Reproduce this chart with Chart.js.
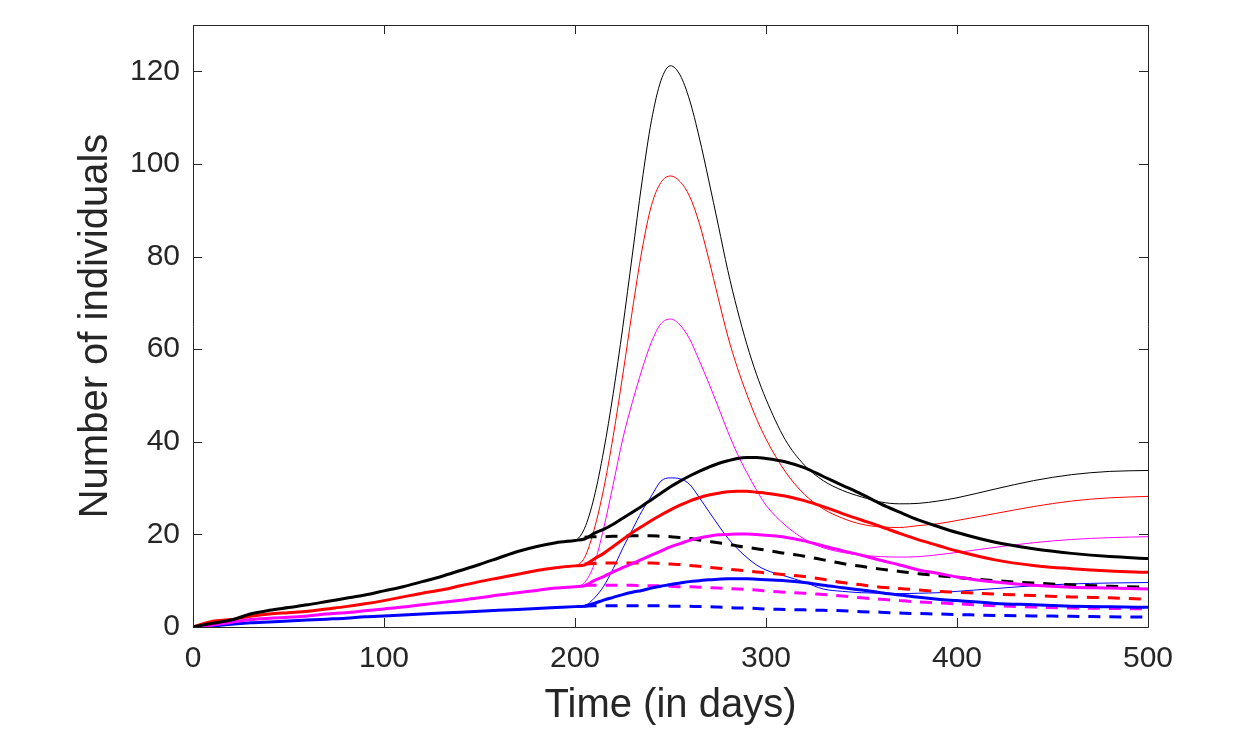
<!DOCTYPE html>
<html>
<head>
<meta charset="utf-8">
<title>Number of individuals</title>
<script src="https://cdn.jsdelivr.net/npm/chart.js@4.4.1/dist/chart.umd.min.js"></script>
<style>
  html, body { margin: 0; padding: 0; background: #fff; }
  #wrap { width: 1236px; height: 737px; }
</style>
</head>
<body>
<div id="wrap"><canvas id="modelChart" width="1236" height="737"></canvas></div>
<script>
// time grid (days): before and after the change at ~day 205
const earlyDays = [0, 10, 20, 30, 40, 50, 60, 70, 80, 90, 100, 110, 120, 130, 140, 150, 160, 170, 180, 190, 200];
const lateDays = [205, 210, 215, 220, 225, 230, 235, 240, 245, 250, 255, 260, 265, 270, 275, 280, 285, 290, 295, 300,
                  310, 320, 330, 340, 350, 360, 370, 380, 390, 400, 420, 440, 460, 480, 500];

// shared part of the curves, days 0-200
const earlyBlack   = [0, 0.8, 1.5, 2.8, 3.6, 4.2, 4.8, 5.5, 6.2, 6.9, 7.8, 8.7, 9.8, 10.9, 12.2, 13.5, 14.9, 16.3, 17.4, 18.2, 18.7];
const earlyRed     = [0, 1.2, 1.6, 2.3, 2.8, 3.1, 3.4, 3.9, 4.4, 5.0, 5.7, 6.5, 7.3, 8.0, 8.9, 9.8, 10.6, 11.4, 12.2, 12.8, 13.2];
const earlyMagenta = [0, 0.4, 1.0, 1.6, 1.9, 2.1, 2.4, 2.8, 3.1, 3.5, 3.9, 4.3, 4.8, 5.3, 5.8, 6.3, 6.9, 7.4, 7.9, 8.4, 8.7];
const earlyBlue    = [0, 0.2, 0.6, 0.9, 1.1, 1.3, 1.5, 1.7, 1.9, 2.2, 2.4, 2.6, 2.8, 3.0, 3.2, 3.4, 3.6, 3.8, 4.0, 4.2, 4.4];

// thick solid curves after day 205
const thickBlack   = [19.0, 20.2, 21.1, 22.2, 23.5, 24.8, 26.1, 27.5, 28.9, 30.3, 31.5, 32.6, 33.6, 34.5, 35.3, 35.9, 36.4, 36.6, 36.6, 36.4,
                      35.7, 34.4, 32.5, 30.6, 28.7, 26.6, 24.8, 23.1, 21.7, 20.4, 18.3, 16.9, 15.9, 15.2, 14.8];
const thickRed     = [13.4, 14.7, 15.9, 17.4, 18.9, 20.4, 21.7, 23.0, 24.2, 25.3, 26.3, 27.2, 27.9, 28.5, 28.9, 29.2, 29.3, 29.3, 29.1, 28.9,
                      28.3, 27.3, 26.0, 24.5, 23.1, 21.7, 20.2, 18.8, 17.6, 16.4, 14.5, 13.3, 12.6, 12.1, 11.8];
const thickMagenta = [8.9, 10.0, 10.9, 11.9, 12.8, 13.7, 14.6, 15.5, 16.4, 17.3, 18.0, 18.7, 19.2, 19.6, 19.9, 20.0, 20.1, 20.1, 20.0, 19.8,
                      19.4, 18.6, 17.5, 16.5, 15.5, 14.4, 13.4, 12.3, 11.6, 10.8, 9.7, 9.0, 8.6, 8.4, 8.2];
const thickBlue    = [4.5, 5.1, 5.8, 6.4, 7.0, 7.5, 7.9, 8.4, 8.8, 9.2, 9.5, 9.8, 10.0, 10.2, 10.3, 10.4, 10.4, 10.4, 10.3, 10.2,
                      10.0, 9.6, 9.0, 8.5, 8.0, 7.4, 6.9, 6.4, 6.0, 5.7, 5.1, 4.8, 4.5, 4.35, 4.25];

// thin solid curves after day 205 (the big peak)
const thinBlack   = [21.3, 28.0, 38.0, 50.4, 64.7, 80.3, 95.9, 109.3, 118.0, 121.2, 119.2, 113.8, 105.8, 96.5, 86.8, 77.0, 68.5, 61.0, 54.6, 49.2,
                     40.5, 35.0, 31.6, 29.5, 28.1, 27.0, 26.6, 26.7, 27.2, 27.9, 29.8, 31.6, 32.9, 33.6, 33.8];
const thinRed     = [15.0, 21.0, 29.8, 41.2, 54.4, 68.3, 81.2, 91.0, 96.0, 97.4, 96.2, 93.0, 87.3, 79.5, 71.0, 62.8, 56.0, 50.2, 45.0, 40.6,
                     33.6, 28.7, 25.5, 23.5, 22.2, 21.6, 21.5, 21.9, 22.3, 23.0, 24.5, 26.0, 27.2, 27.9, 28.2];
const thinMagenta = [9.6, 13.5, 21.3, 30.8, 40.6, 48.5, 55.5, 61.5, 65.5, 66.5, 65.2, 62.2, 57.6, 52.7, 47.5, 42.2, 37.4, 33.3, 29.6, 26.3,
                     22.0, 19.0, 17.1, 16.1, 15.5, 15.2, 15.1, 15.2, 15.6, 16.1, 17.2, 18.2, 18.9, 19.3, 19.5];
const thinBlue    = [4.6, 6.2, 8.8, 12.6, 17.0, 21.0, 25.0, 28.3, 31.5, 32.2, 32.0, 30.8, 28.0, 25.0, 22.0, 19.2, 16.9, 15.0, 13.4, 12.3,
                     11.0, 9.7, 8.2, 7.7, 7.4, 7.3, 7.2, 7.3, 7.4, 7.7, 8.3, 8.9, 9.3, 9.5, 9.6];

// dashed curves after day 205
const dashBlack   = [19.4, 19.5, 19.5, 19.6, 19.6, 19.7, 19.7, 19.7, 19.6, 19.5, 19.3, 19.1, 18.8, 18.5, 18.2, 17.9, 17.5, 17.2, 16.9, 16.6,
                     15.9, 15.3, 14.5, 13.7, 13.1, 12.5, 12.0, 11.5, 11.1, 10.7, 10.0, 9.5, 9.1, 8.8, 8.6];
const dashRed     = [13.6, 13.7, 13.8, 13.8, 13.8, 13.8, 13.8, 13.8, 13.7, 13.6, 13.5, 13.3, 13.1, 12.9, 12.7, 12.5, 12.3, 12.1, 11.9, 11.7,
                     11.3, 10.9, 10.3, 9.6, 9.1, 8.6, 8.3, 8.0, 7.7, 7.5, 7.1, 6.8, 6.5, 6.3, 6.0];
const dashMagenta = [9.0, 9.0, 9.0, 9.0, 9.0, 9.0, 8.9, 8.9, 8.9, 8.8, 8.7, 8.7, 8.6, 8.5, 8.4, 8.3, 8.2, 8.1, 8.0, 7.8,
                     7.5, 7.3, 7.0, 6.7, 6.3, 6.0, 5.7, 5.4, 5.2, 5.0, 4.6, 4.3, 4.1, 4.0, 3.9];
const dashBlue    = [4.5, 4.6, 4.6, 4.6, 4.6, 4.6, 4.6, 4.6, 4.6, 4.5, 4.5, 4.5, 4.4, 4.4, 4.3, 4.2, 4.1, 4.1, 4.0, 3.9,
                     3.8, 3.7, 3.6, 3.5, 3.3, 3.2, 3.0, 2.9, 2.8, 2.7, 2.5, 2.4, 2.3, 2.2, 2.15];

const xTicks = [0, 100, 200, 300, 400, 500];
const yTicks = [0, 20, 40, 60, 80, 100, 120];

const fontFamily = '"Liberation Sans", Arial, Helvetica, sans-serif';
const axisColor = '#262626';

function toPoints(days, values) {
    return days.map((d, i) => ({ x: d, y: values[i] }));
}

function series(label, days, values, color, width, dash) {
    return {
        label: label,
        data: toPoints(days, values),
        borderColor: color,
        backgroundColor: color,
        borderWidth: width,
        borderDash: dash || [],
        pointRadius: 0,
        fill: false,
        cubicInterpolationMode: 'monotone'
    };
}

const allDays = earlyDays.concat(lateDays);

// first dataset is drawn on top: thick, then dashed, then thin
const datasets = [
    series('Black (thick)', allDays, earlyBlack.concat(thickBlack), '#000000', 3),
    series('Red (thick)', allDays, earlyRed.concat(thickRed), '#ff0000', 3),
    series('Magenta (thick)', allDays, earlyMagenta.concat(thickMagenta), '#ff00ff', 3),
    series('Blue (thick)', allDays, earlyBlue.concat(thickBlue), '#0000ff', 3),
    series('Black (dashed)', lateDays, dashBlack, '#000000', 3, [12, 9]),
    series('Red (dashed)', lateDays, dashRed, '#ff0000', 3, [12, 9]),
    series('Magenta (dashed)', lateDays, dashMagenta, '#ff00ff', 3, [12, 9]),
    series('Blue (dashed)', lateDays, dashBlue, '#0000ff', 3, [12, 9]),
    series('Black (thin)', allDays, earlyBlack.concat(thinBlack), '#000000', 1),
    series('Red (thin)', allDays, earlyRed.concat(thinRed), '#ff0000', 1),
    series('Magenta (thin)', allDays, earlyMagenta.concat(thinMagenta), '#ff00ff', 1),
    series('Blue (thin)', allDays, earlyBlue.concat(thinBlue), '#0000ff', 1)
];

// box around the plot with inward tick marks on all four sides
const boxPlugin = {
    id: 'matlabBox',
    afterDraw(chart) {
        const { ctx, chartArea: a, scales } = chart;
        const len = 9;
        ctx.save();
        ctx.strokeStyle = axisColor;
        ctx.lineWidth = 1;
        ctx.beginPath();
        ctx.rect(a.left + 0.5, a.top + 0.5, a.right - a.left, a.bottom - a.top);
        scales.x.ticks.forEach(t => {
            const px = Math.round(scales.x.getPixelForValue(t.value)) + 0.5;
            ctx.moveTo(px, a.bottom); ctx.lineTo(px, a.bottom - len);
            ctx.moveTo(px, a.top); ctx.lineTo(px, a.top + len);
        });
        scales.y.ticks.forEach(t => {
            const py = Math.round(scales.y.getPixelForValue(t.value)) + 0.5;
            ctx.moveTo(a.left, py); ctx.lineTo(a.left + len, py);
            ctx.moveTo(a.right, py); ctx.lineTo(a.right - len, py);
        });
        ctx.stroke();
        ctx.restore();
    }
};

const ctx = document.getElementById('modelChart').getContext('2d');
new Chart(ctx, {
    type: 'line',
    data: { datasets: datasets },
    options: {
        responsive: false,
        animation: false,
        devicePixelRatio: 1,
        layout: { padding: { left: 72, right: 88, top: 25, bottom: 7 } },
        plugins: {
            legend: { display: false },
            tooltip: { enabled: false }
        },
        scales: {
            x: {
                type: 'linear',
                min: 0,
                max: 500,
                grid: { display: false, drawTicks: false },
                border: { display: false },
                afterBuildTicks: scale => { scale.ticks = xTicks.map(v => ({ value: v })); },
                afterFit: scale => {
                    scale.height = 103;
                    scale.paddingLeft = 0;
                    scale.paddingRight = 0;
                },
                ticks: {
                    padding: 14,
                    color: axisColor,
                    font: { family: fontFamily, size: 30 },
                    maxRotation: 0
                },
                title: {
                    display: true,
                    text: 'Time (in days)',
                    color: axisColor,
                    padding: 0,
                    font: { family: fontFamily, size: 40 }
                }
            },
            y: {
                type: 'linear',
                min: 0,
                max: 130,
                grid: { display: false, drawTicks: false },
                border: { display: false },
                afterBuildTicks: scale => { scale.ticks = yTicks.map(v => ({ value: v })); },
                afterFit: scale => {
                    scale.width = 121;
                    scale.paddingTop = 0;
                    scale.paddingBottom = 0;
                },
                ticks: {
                    padding: 13,
                    color: axisColor,
                    font: { family: fontFamily, size: 30 }
                },
                title: {
                    display: true,
                    text: 'Number of individuals',
                    color: axisColor,
                    padding: 0,
                    font: { family: fontFamily, size: 40 }
                }
            }
        }
    },
    plugins: [boxPlugin]
});
</script>
</body>
</html>
